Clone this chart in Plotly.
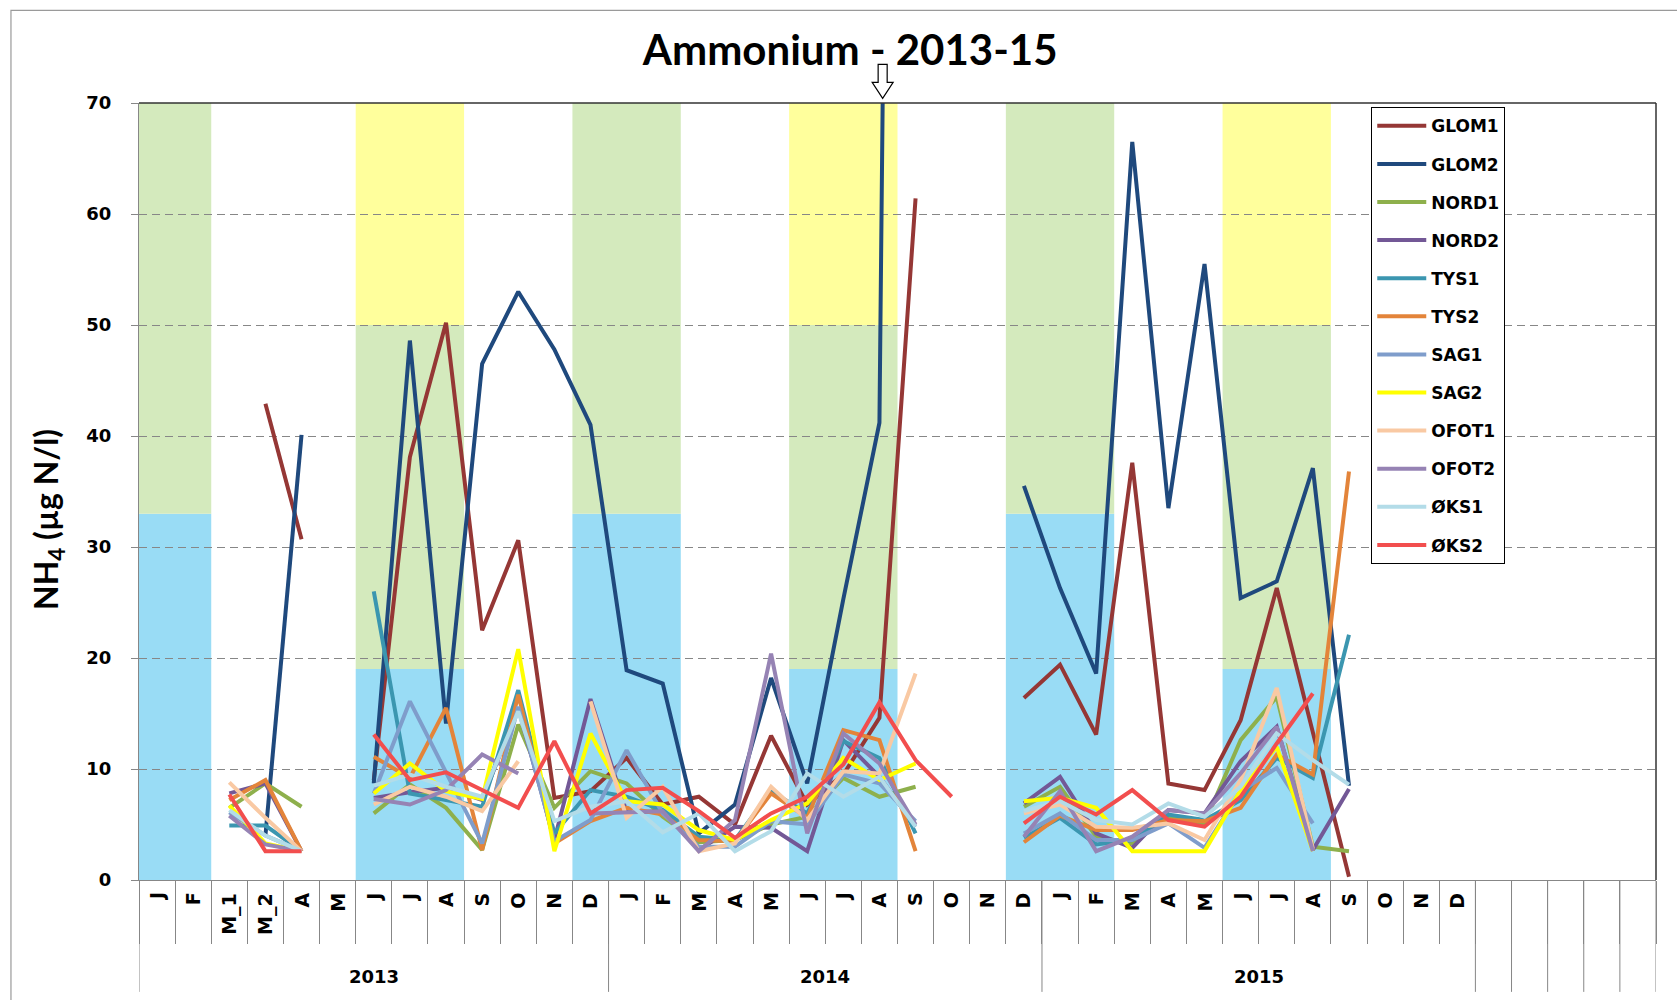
import plotly.graph_objects as go

N = None

# ---------------- data ----------------
MONTHS = ["J", "F", "M_1", "M_2", "A", "M", "J", "J", "A", "S", "O", "N", "D",
          "J", "F", "M", "A", "M", "J", "J", "A", "S", "O", "N", "D",
          "J", "F", "M", "A", "M", "J", "J", "A", "S", "O", "N", "D",
          "", "", "", "", ""]
YEARS = ["2013", "2014", "2015"]
YEAR_SPANS = [(0, 12), (13, 24), (25, 36)]

SERIES = ["GLOM1", "GLOM2", "NORD1", "NORD2", "TYS1", "TYS2",
          "SAG1", "SAG2", "OFOT1", "OFOT2", "ØKS1", "ØKS2"]

GLOM1 = [N, N, N, 42.9, 30.7, N, 9.0, 38.1, 50.2, 22.5, 30.6, 7.4, 8.0, 11.0, 6.8, 7.5, 5.0, 13.0,
         6.8, 9.5, 14.6, 61.4, N, N, 16.4, 19.4, 13.1, 37.6, 8.7, 8.1, 14.4, 26.3, 13.3, 0.3]
GLOM2 = [N, N, N, 4.0, 40.1, N, 8.7, 48.6, 14.1, 46.5, 53.0, 47.8, 41.0, 18.9, 17.7, 4.2, 6.8, 18.2,
         8.7, 25.3, 41.2, 365.0, N, N, 35.5, 26.3, 18.6, 66.5, 33.5, 55.5, 25.4, 26.9, 37.1, 8.5]
NORD1 = [N, N, 6.5, 8.7, 6.6, N, 6.0, 8.6, 6.5, 2.7, 14.0, 6.5, 9.8, 8.7, 5.7, 3.4, 3.6, 5.0,
         5.7, 9.2, 7.5, 8.4, N, N, 6.6, 8.4, 3.9, 3.3, 5.7, 5.1, 12.6, 16.5, 3.0, 2.6]
NORD2 = [N, N, 7.8, 8.7, 2.6, N, 7.4, 7.9, 8.3, 7.2, 15.5, 3.6, 16.3, 6.1, 6.2, 2.7, 4.8, 4.7,
         2.6, 12.6, 9.3, 4.8, N, N, 6.9, 9.3, 4.2, 2.9, 6.3, 6.0, 10.7, 13.8, 2.7, 8.2]
TYS1 = [N, N, 4.9, 4.9, 2.6, N, 26.0, 7.8, 7.2, 6.6, 17.1, 4.2, 8.1, 7.5, 6.3, 3.9, 3.6, 8.0,
        6.0, 12.5, 11.0, 4.2, N, N, 3.8, 5.6, 3.2, 3.6, 5.9, 5.4, 7.2, 11.0, 9.2, 22.1]
TYS2 = [N, N, 7.2, 9.0, 2.6, N, 11.1, 9.2, 15.5, 2.7, 16.7, 3.3, 5.3, 6.5, 5.9, 3.6, 3.5, 7.8,
        5.6, 13.5, 12.6, 2.6, N, N, 3.4, 5.8, 4.5, 4.5, 5.4, 5.3, 6.5, 11.3, 9.5, 36.8]
SAG1 = [N, N, 6.1, 4.0, 2.6, N, 7.8, 16.1, 9.7, 3.3, 15.6, 3.5, 5.4, 11.7, 6.0, 3.0, 3.0, 5.3,
        5.0, 9.5, 8.7, 5.3, N, N, 4.2, 6.0, 3.6, 3.6, 5.1, 2.9, 8.0, 10.1, 5.1, N]
SAG2 = [N, N, 6.7, 3.3, 2.6, N, 7.8, 10.5, 8.0, 7.3, 20.8, 2.6, 13.2, 7.1, 6.8, 4.5, 3.6, 5.4,
        6.9, 11.0, 9.0, 10.5, N, N, 7.1, 7.4, 6.5, 2.6, 2.6, 2.6, 8.1, 12.0, 2.6, N]
OFOT1 = [N, N, 8.8, 5.6, 2.6, N, 6.8, 8.4, 7.5, 6.2, 10.7, N, 16.1, 5.6, 8.4, 2.6, 3.3, 8.4,
         5.4, 9.8, 9.6, 18.6, N, N, 6.0, 6.8, 4.8, 4.7, 5.1, 3.6, 9.0, 17.3, 2.8, N]
OFOT2 = [N, N, 5.8, 3.2, 2.6, N, 7.3, 6.8, 8.1, 11.3, 9.6, N, 6.0, 6.1, 6.2, 2.6, 5.4, 20.4,
         4.2, 13.2, 10.5, 5.0, N, N, 3.9, 8.0, 2.6, 3.9, 6.3, 6.0, 9.6, 13.8, 2.6, N]
OKS1 = [N, N, 6.3, 4.0, 2.6, N, 8.5, 9.5, 8.4, 7.5, 15.2, 5.3, 6.6, 7.1, 4.3, 6.0, 2.6, 4.4,
        9.6, 7.5, 9.3, 4.8, N, N, 6.2, 7.1, 5.4, 5.0, 6.9, 5.7, 8.4, 13.2, 10.8, 8.6]
OKS2 = [N, N, 7.7, 2.6, 2.6, N, 13.1, 9.0, 9.7, 8.1, 6.5, 12.5, 6.0, 8.1, 8.3, 6.2, 3.8, 6.0,
        7.5, 10.4, 16.0, 10.8, 7.5, N, 5.1, 7.5, 5.9, 8.1, 5.4, 4.8, 7.5, 12.3, 16.8, N]

VALUES = [GLOM1, GLOM2, NORD1, NORD2, TYS1, TYS2, SAG1, SAG2, OFOT1, OFOT2, OKS1, OKS2]

# class limits used for background shading (µg N/l)
WINTER_COLS = [(0, 1), (12, 14), (24, 26)]
SUMMER_COLS = [(6, 8), (18, 20), (30, 32)]
WINTER_LIMIT = 33
SUMMER_LIMITS = [19, 50]
Y_MAX = 70

# ---------------- styles ----------------
COLORS = ["#953735", "#1F497D", "#8EB04C", "#735896", "#3B96B0", "#E3843A",
          "#7F9DCB", "#FFFF00", "#F9C9A3", "#9683B4", "#B3DCE8", "#F24E4E"]
BLUE, GREEN, YELLOW = "#99DCF5", "#D4EABD", "#FFFF9C"
AXIS_GREY = "#878787"
TICK_FONT = dict(family="DejaVu Sans", size=18, color="black", weight="bold")
MONTH_FONT = dict(family="DejaVu Sans", size=19, color="black", weight="bold")

fig = go.Figure()
n = len(MONTHS)
xs = list(range(n))
for name, vals, col in zip(SERIES, VALUES, COLORS):
    y = list(vals) + [None] * (n - len(vals))
    fig.add_trace(go.Scatter(x=xs, y=y, mode="lines", name=name, legendgroup=name,
                             line=dict(color=col, width=4), connectgaps=False))

shapes = []
# background shading
for a, b in WINTER_COLS:
    shapes.append(dict(type="rect", xref="x", yref="y", x0=a - 0.5, x1=b + 0.5, y0=0, y1=WINTER_LIMIT,
                       fillcolor=BLUE, line=dict(width=0), layer="below"))
    shapes.append(dict(type="rect", xref="x", yref="y", x0=a - 0.5, x1=b + 0.5, y0=WINTER_LIMIT, y1=Y_MAX,
                       fillcolor=GREEN, line=dict(width=0), layer="below"))
for a, b in SUMMER_COLS:
    lims = [0] + SUMMER_LIMITS + [Y_MAX]
    for lo, hi, c in zip(lims[:-1], lims[1:], [BLUE, GREEN, YELLOW]):
        shapes.append(dict(type="rect", xref="x", yref="y", x0=a - 0.5, x1=b + 0.5, y0=lo, y1=hi,
                           fillcolor=c, line=dict(width=0), layer="below"))

# group separators on the category axis
group_edges = [YEAR_SPANS[0][0] - 0.5] + [e + 0.5 for _, e in YEAR_SPANS] + \
              [i + 0.5 for i in range(YEAR_SPANS[-1][1] + 1, n)]
for gx in group_edges:
    shapes.append(dict(type="line", xref="x", yref="paper", x0=gx, x1=gx, y0=0, y1=-0.144,
                       line=dict(color=AXIS_GREY, width=1)))

# dark plot-area border top & right
shapes.append(dict(type="line", xref="paper", yref="paper", x0=0, x1=1, y0=1, y1=1,
                   line=dict(color="#333333", width=1.5)))
shapes.append(dict(type="line", xref="paper", yref="paper", x0=1, x1=1, y0=0, y1=1,
                   line=dict(color="#333333", width=1.5)))

# outer chart frame
shapes.append(dict(type="rect", xref="paper", yref="paper", x0=-0.0844, x1=1.05, y0=-0.2, y1=1.1192,
                   line=dict(color="#9a9a9a", width=1.2), fillcolor="rgba(0,0,0,0)", layer="below"))

# off-scale arrow for GLOM2 (placed where the line leaves the plot)
gi = max(range(len(GLOM2)), key=lambda i: GLOM2[i] if GLOM2[i] is not None else -1)
prev = GLOM2[gi - 1]
xc = (gi - 1) + (Y_MAX - prev) / (GLOM2[gi] - prev)
hw, sw = 0.29, 0.125
yt, ym, yb = 1.0498, 1.0266, 1.006
path = (f"M {xc - sw},{yt} L {xc + sw},{yt} L {xc + sw},{ym} L {xc + hw},{ym} "
        f"L {xc},{yb} L {xc - hw},{ym} L {xc - sw},{ym} Z")
shapes.append(dict(type="path", xref="x", yref="paper", path=path, fillcolor="white",
                   line=dict(color="black", width=1.2)))

annotations = []
for i, m in enumerate(MONTHS):
    if m:
        annotations.append(dict(x=i, y=-0.0135, xref="x", yref="paper", text=m, showarrow=False,
                                textangle=-90, xanchor="center", yanchor="top", font=MONTH_FONT))
for yr, (a, b) in zip(YEARS, YEAR_SPANS):
    annotations.append(dict(x=(a + b) / 2, y=-0.124, xref="x", yref="paper", text=yr, showarrow=False,
                            xanchor="center", yanchor="middle", font=TICK_FONT))
annotations.append(dict(x=-0.06, y=0.4646, xref="paper", yref="paper", text="NH<sub>4</sub> (µg N/l)",
                        showarrow=False, textangle=-90, xanchor="center", yanchor="middle",
                        font=dict(family="Lato", size=32, color="black", weight="bold")))

fig.update_layout(
    width=1677, height=1000,
    margin=dict(l=139, r=21, t=103, b=120),
    paper_bgcolor="white", plot_bgcolor="white",
    title=dict(text="Ammonium - 2013-15", x=0.507, xref="container", xanchor="center",
               y=0.95, yref="container", yanchor="middle",
               font=dict(family="Lato", size=42, color="black", weight="bold")),
    legend=dict(x=0.8123, y=0.9945, xanchor="left", yanchor="top", bgcolor="white",
                bordercolor="black", borderwidth=1, tracegroupgap=13, itemwidth=49,
                font=dict(family="DejaVu Sans", size=17, color="black", weight="bold")),
    xaxis=dict(range=[-0.5, n - 0.5], showgrid=False, zeroline=False, showline=True,
               linecolor=AXIS_GREY, linewidth=1, ticks="outside", tickmode="array",
               tickvals=[i - 0.5 for i in range(n + 1)], ticklen=63, tickcolor=AXIS_GREY,
               showticklabels=False, fixedrange=True),
    yaxis=dict(range=[0, Y_MAX], dtick=10, tick0=0, showgrid=True, gridcolor=AXIS_GREY,
               griddash="8px,5px", gridwidth=1, zeroline=False, showline=True,
               linecolor=AXIS_GREY, linewidth=1, ticks="outside", ticklen=7, tickcolor=AXIS_GREY,
               tickfont=TICK_FONT, ticklabelstandoff=16, fixedrange=True),
    shapes=shapes, annotations=annotations,
)

fig.write_html("out.html", config={"displayModeBar": False},
               post_script="document.body.style.margin='0';document.body.style.overflow='hidden';")
